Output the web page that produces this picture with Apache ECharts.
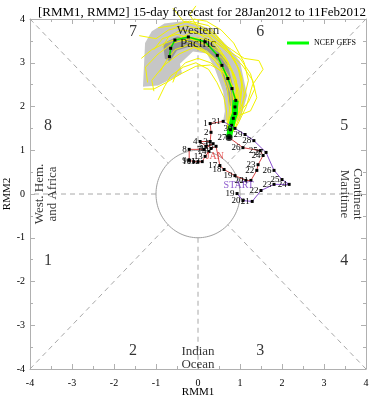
<!DOCTYPE html>
<html><head><meta charset="utf-8">
<script src="https://cdn.jsdelivr.net/npm/echarts@6/dist/echarts.min.js"></script>
<style>html,body{margin:0;padding:0;background:#fff}#c{width:369px;height:400px}</style>
</head><body><div id="c"></div>
<script>
// ---------- data ----------
const axisTicks = [-4,-3,-2,-1,0,1,2,3,4];
const decDays  = [19,20,21,22,23,24,25,26,27,28,29,30,31];
const decRMM1  = [0.93,1.07,1.29,1.50,1.81,2.17,2.00,1.81,1.62,1.33,1.12,0.88,0.60];
const decRMM2  = [0.01,-0.15,-0.17,0.08,0.22,0.22,0.33,0.54,0.95,1.22,1.36,1.50,1.66];
const janDays  = [1,2,3,4,5,6,7,8,9,10,11,12,13,14,15,16,17,18,19,20,21,22,23,24,25,26,27];
const janRMM1  = [0.29,0.31,0.29,0.05,0.19,0.36,0.14,-0.21,-0.21,-0.10,0.00,0.10,0.17,0.26,0.31,0.43,0.52,0.62,0.88,1.14,1.26,1.40,1.43,1.55,1.48,1.07,0.74];
const janRMM2  = [1.61,1.41,1.20,1.20,1.09,1.15,1.02,1.02,0.77,0.74,0.74,0.74,0.86,0.97,1.04,1.09,0.65,0.56,0.42,0.31,0.31,0.54,0.67,0.88,0.99,1.06,1.29];
const meanRMM1 = [0.74,0.77,0.80,0.84,0.88,0.88,0.90,0.81,0.71,0.57,0.46,0.17,-0.23,-0.55,-0.65,-0.68];
const meanRMM2 = [1.29,1.47,1.57,1.73,1.84,1.99,2.14,2.41,2.64,2.94,3.17,3.48,3.59,3.52,3.33,3.14];
const outerRMM1 = [0.60,0.64,0.60,0.40,0.21,-0.12,-0.43,-0.38,-0.95,-1.31,-1.26,-1.10,-0.80,-0.28,0.29,0.69,1.00,1.17,1.00];
const outerRMM2 = [1.68,1.89,2.34,2.87,3.21,3.26,2.98,2.75,2.48,2.45,3.45,3.72,3.90,3.96,3.78,3.39,3.03,2.25,1.68];
const innerRMM1 = [-0.83,-0.50,-0.02,0.36,0.69,0.83,0.88,0.76,0.64,0.48,0.21,-0.19,-0.50,-0.67,-0.79];
const innerRMM2 = [3.44,3.60,3.55,3.44,3.03,2.48,2.02,2.02,2.57,3.03,3.28,3.37,3.28,3.03,3.10];
const ens01 = [[0.74,1.29],[0.82,1.62],[0.95,1.95],[0.98,2.35],[0.85,2.75],[0.62,3.15],[0.30,3.50],[-0.05,3.70],[-0.40,3.75],[-0.70,3.60],[-0.85,3.35]];
const ens02 = [[0.74,1.29],[0.70,1.60],[0.80,1.90],[0.78,2.30],[0.65,2.70],[0.40,3.05],[0.10,3.30],[-0.25,3.40],[-0.55,3.30],[-0.75,3.05],[-0.90,2.80]];
const ens03 = [[0.74,1.29],[0.90,1.55],[1.05,1.90],[1.10,2.30],[1.00,2.80],[0.75,3.25],[0.40,3.65],[0.05,3.85],[-0.35,3.95],[-0.60,4.25]];
const ens04 = [[0.74,1.29],[0.78,1.70],[0.86,2.05],[0.80,2.50],[0.55,2.90],[0.25,3.20],[-0.10,3.35],[-0.45,3.20],[-0.80,2.95],[-1.10,2.60],[-1.05,2.35]];
const ens05 = [[0.74,1.29],[0.85,1.65],[0.92,2.10],[0.90,2.60],[0.70,3.05],[0.45,3.40],[0.15,3.75],[-0.30,3.85],[-0.70,3.75],[-1.00,3.55],[-1.40,3.62]];
const ens06 = [[0.74,1.29],[0.95,1.60],[1.15,2.00],[1.30,2.50],[1.55,2.85],[1.45,3.05],[1.10,3.10],[0.80,3.30],[0.50,3.50],[0.20,3.75]];
const ens07 = [[0.74,1.29],[0.72,1.55],[0.75,1.95],[0.70,2.40],[0.55,2.80],[0.30,3.00],[0.00,3.10],[-0.30,3.00],[-0.50,2.80],[-0.60,2.55]];
const ens08 = [[0.74,1.29],[0.88,1.58],[1.00,2.00],[1.05,2.45],[0.95,2.90],[0.70,3.30],[0.35,3.60],[0.00,3.80],[-0.20,4.10],[-0.05,4.30]];
const ens09 = [[0.74,1.29],[0.80,1.50],[0.92,1.80],[1.20,2.10],[1.35,2.40],[1.25,2.75],[1.00,3.10],[0.60,3.35],[0.25,3.60],[-0.15,3.70],[-0.45,3.55]];
const ens10 = [[0.74,1.29],[0.76,1.65],[0.85,2.00],[0.92,2.40],[0.80,2.80],[0.58,3.10],[0.20,3.40],[-0.20,3.55],[-0.60,3.45],[-0.95,3.20],[-1.25,2.90],[-1.20,2.55]];
const ens11 = [[0.74,1.29],[0.84,1.72],[1.00,2.15],[1.05,2.65],[0.88,3.05],[0.60,3.45],[0.25,3.85],[-0.20,3.95],[-0.60,3.85],[-0.95,3.80]];
const ens12 = [[0.74,1.29],[0.70,1.58],[0.68,1.90],[0.62,2.20],[0.45,2.55],[0.25,2.85],[-0.05,3.00],[-0.35,2.90],[-0.65,2.70],[-0.80,2.45],[-0.95,2.15]];
const ens13 = [[0.74,1.29],[0.92,1.70],[1.10,2.20],[1.20,2.60],[1.10,3.00],[0.85,3.45],[0.55,3.75],[0.20,3.95],[-0.10,4.00]];
const ens14 = [[0.74,1.29],[0.80,1.62],[0.98,1.80],[1.25,1.90],[1.40,2.20],[1.30,2.60],[1.05,2.95],[0.75,3.20],[0.45,3.45],[0.10,3.55],[-0.30,3.60]];
const ens15 = [[0.74,1.29],[0.78,1.55],[0.83,1.85],[0.86,2.25],[0.76,2.65],[0.52,3.00],[0.22,3.25],[-0.12,3.45],[-0.48,3.55],[-0.78,3.45],[-1.10,3.30],[-1.35,3.10]];
const ens16 = [[0.74,1.29],[0.86,1.60],[0.90,1.95],[0.95,2.30],[0.90,2.65],[0.75,2.95],[0.50,3.25],[0.20,3.45],[-0.15,3.55],[-0.50,3.65],[-0.85,3.55],[-1.05,3.30]];
const ens17 = [[0.74,1.29],[0.80,1.68],[0.88,2.08],[0.84,2.45],[0.62,2.78],[0.30,2.95],[-0.05,2.92],[-0.40,2.75],[-0.75,2.55],[-1.05,2.40],[-1.30,2.40]];
const ensemble = [ens01,ens02,ens03,ens04,ens05,ens06,ens07,ens08,ens09,ens10,ens11,ens12,ens13,ens14,ens15,ens16,ens17];

// ---------- chart ----------
const SERIF = '"Liberation Serif","Times New Roman",serif';
const chart = echarts.init(document.getElementById('c'), null, {renderer:'canvas'});

function polySeries(xs, ys, color, z){
  return {type:'custom', silent:true, z:z, clip:false, data:[[xs[0],ys[0]]],
    renderItem:(p,api)=>({type:'polygon', shape:{points: xs.map((x,i)=>api.coord([x,ys[i]]))}, style:{fill:color, stroke:null}})};
}
const r = Math.SQRT1_2;
const guideSegs = [[-4,4,-r,r],[4,4,r,r],[-4,-4,-r,-r],[4,-4,r,-r],[0,1,0,4],[0,-1,0,-4],[1,0,4,0],[-1,0,-4,0]];

function lbl(day, pos){
  return {show:true, formatter:String(day), position:pos||'left', distance:1, fontSize:9, fontFamily:SERIF, color:'#000'};
}
const decData = decDays.map((d,i)=>({value:[decRMM1[i],decRMM2[i]], label:lbl(d)}));
const janData = [{value:[decRMM1[decRMM1.length-1],decRMM2[decRMM2.length-1]], symbolSize:0}]
  .concat(janDays.map((d,i)=>({value:[janRMM1[i],janRMM2[i]], label:lbl(d)})));
const meanData = meanRMM1.map((x,i)=>[x,meanRMM2[i]]);

function txt(x,y,s,size,extra){
  return Object.assign({value:[x,y], label:{show:true, position:'inside', formatter:s, fontSize:size, fontFamily:SERIF, color:'#000', lineHeight:size}}, extra||{});
}
const texts = [
  txt(-1.55,3.70,'7',16), txt(1.48,3.70,'6',16), txt(-3.57,1.55,'8',16), txt(3.48,1.55,'5',16),
  txt(-3.57,-1.52,'1',16), txt(3.48,-1.52,'4',16), txt(-1.55,-3.58,'2',16), txt(1.48,-3.58,'3',16),
  txt(0,3.59,'Western\nPacific',13), txt(0,-3.74,'Indian\nOcean',13),
  {value:[-3.62,0], label:{show:true, position:'inside', formatter:'West. Hem.\nand Africa', fontSize:13, fontFamily:SERIF, color:'#000', rotate:90, lineHeight:13}},
  {value:[3.64,0], label:{show:true, position:'inside', formatter:'Continent\nMaritime', fontSize:13, fontFamily:SERIF, color:'#000', rotate:-90, lineHeight:13}},
  {value:[0.40,0.86], label:{show:true, position:'inside', formatter:'JAN', fontSize:10, fontFamily:SERIF, color:'#e03030'}},
  {value:[0.97,0.20], label:{show:true, position:'inside', formatter:'START', fontSize:10, fontFamily:SERIF, color:'#7030c0'}}
];

const axCommon = {type:'value', min:-4, max:4, interval:1,
  axisLine:{show:true, onZero:false, lineStyle:{color:'#b0b0b0', width:1}},
  axisTick:{show:true, inside:true, length:5, lineStyle:{color:'#b0b0b0'}},
  minorTick:{show:true, splitNumber:2, length:3, lineStyle:{color:'#b0b0b0'}},
  splitLine:{show:false}};

const series = [
  polySeries(outerRMM1, outerRMM2, '#c6c6c6', 1),
  polySeries(innerRMM1, innerRMM2, '#989898', 2),
  {type:'custom', silent:true, z:3, data:guideSegs, encode:{x:[0,2], y:[1,3]},
    renderItem:(p,api)=>{const a=api.coord([api.value(0),api.value(1)]), b=api.coord([api.value(2),api.value(3)]);
      return {type:'line', shape:{x1:a[0],y1:a[1],x2:b[0],y2:b[1]}, style:{stroke:'#a8a8a8', lineWidth:1, lineDash:[5,4]}};}},
  {type:'custom', silent:true, z:3, data:[[0,0]],
    renderItem:(p,api)=>{const pts=[]; for(let k=0;k<=120;k++){const t=k/120*2*Math.PI; pts.push(api.coord([Math.cos(t),Math.sin(t)]));}
      return {type:'polyline', shape:{points:pts}, style:{stroke:'#a0a0a0', lineWidth:1, fill:null}};}}
];
ensemble.forEach(m=>series.push({type:'line', data:m, showSymbol:false, symbol:'none', clip:false, z:4, silent:true,
  lineStyle:{color:'#f2f200', width:1}}));
series.push({type:'line', data:meanData.slice(0,7), symbol:'none', z:5, silent:true, lineStyle:{color:'#00ff00', width:6}});
series.push({type:'line', name:'NCEP GEFS', data:meanData, symbol:'rect', symbolSize:3, z:6, silent:true,
  itemStyle:{color:'#000'}, lineStyle:{color:'#00e000', width:1.5}});
series.push({type:'line', data:decData, symbol:'rect', symbolSize:3, z:7, silent:true,
  itemStyle:{color:'#000'}, lineStyle:{color:'#8a50d0', width:1}});
series.push({type:'line', data:janData, symbol:'rect', symbolSize:3, z:7, silent:true,
  itemStyle:{color:'#000'}, lineStyle:{color:'#d84848', width:1}});
series.push({type:'scatter', data:[[janRMM1[janRMM1.length-1], janRMM2[janRMM2.length-1]]], symbol:'circle', symbolSize:7, z:8, silent:true, itemStyle:{color:'#000'}});
series.push({type:'scatter', data:texts, symbolSize:0, z:9, silent:true});

chart.setOption({
  animation:false,
  backgroundColor:'#fff',
  title:{text:'[RMM1, RMM2] 15-day forecast for 28Jan2012 to 11Feb2012', left:197, textAlign:'center', top:1,
    textStyle:{fontFamily:SERIF, fontSize:13, fontWeight:'normal', color:'#000'}},
  legend:{data:[{name:'NCEP GEFS', icon:'rect', itemStyle:{color:'#00ff00'}}], left:282, top:34,
    itemWidth:22, itemHeight:3, itemGap:5, textStyle:{fontFamily:SERIF, fontSize:8, color:'#000'}, selectedMode:false},
  grid:{left:30, right:3, top:19, bottom:31, containLabel:false, outerBoundsMode:'none'},
  xAxis:[
    Object.assign({}, axCommon, {position:'bottom', name:'RMM1', nameLocation:'middle', nameGap:18, nameMoveOverlap:false,
      nameTextStyle:{fontFamily:SERIF, fontSize:11, color:'#000'},
      axisLabel:{show:true, margin:9, fontFamily:SERIF, fontSize:10, color:'#000', formatter:v=>axisTicks.includes(v)?String(v):''}}),
    Object.assign({}, axCommon, {position:'top', axisLabel:{show:false}})
  ],
  yAxis:[
    Object.assign({}, axCommon, {position:'left', name:'RMM2', nameLocation:'middle', nameGap:17, nameMoveOverlap:false,
      nameTextStyle:{fontFamily:SERIF, fontSize:11, color:'#000'},
      axisLabel:{show:true, margin:5, fontFamily:SERIF, fontSize:10, color:'#000', formatter:v=>axisTicks.includes(v)?String(v):''}}),
    Object.assign({}, axCommon, {position:'right', axisLabel:{show:false}})
  ],
  series:series
});
</script></body></html>
